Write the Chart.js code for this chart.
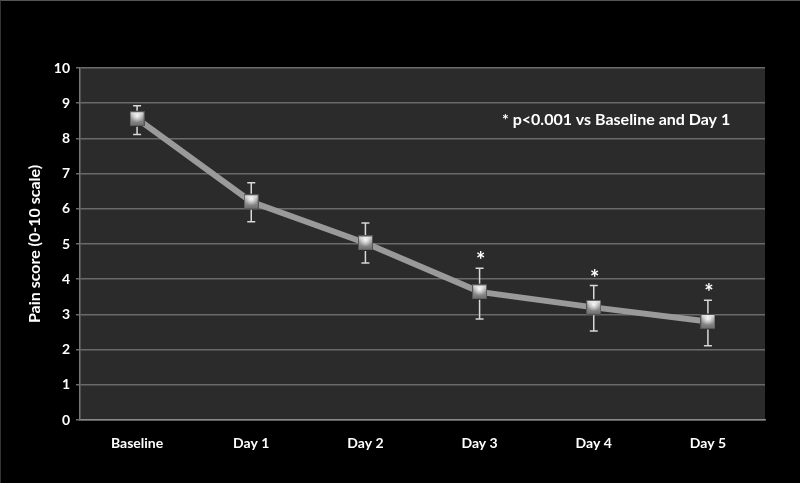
<!DOCTYPE html>
<html>
<head>
<meta charset="utf-8">
<script src="https://cdn.jsdelivr.net/npm/chart.js@4.4.0/dist/chart.umd.min.js"></script>
<style>
  html, body { margin: 0; padding: 0; background: #000; }
  #wrap { width: 800px; height: 483px; position: relative; box-sizing: border-box; border-top: 1px solid #555; border-left: 1px solid #333; }
</style>
</head>
<body>
<div id="wrap"><canvas id="painChart" width="800" height="483"></canvas></div>
<script>
// Data
const categories = ['Baseline', 'Day 1', 'Day 2', 'Day 3', 'Day 4', 'Day 5'];
const painMean = [8.56, 6.2, 5.03, 3.64, 3.2, 2.8];
const errUpper = [8.93, 6.74, 5.6, 4.31, 3.82, 3.4];
const errLower = [8.11, 5.63, 4.46, 2.87, 2.53, 2.11];
const significant = [false, false, false, true, true, true];
const yTicks = [0, 1, 2, 3, 4, 5, 6, 7, 8, 9, 10];
const noteText = '* p<0.001 vs Baseline and Day 1';

const FONT = 'Lato, "Open Sans", sans-serif';

// Square marker with a grey gradient and light top
function makeMarker(size) {
    const c = document.createElement('canvas');
    c.width = size; c.height = size;
    const g = c.getContext('2d');
    const grad = g.createLinearGradient(0, 0, 0, size);
    grad.addColorStop(0, '#e8e8e8');
    grad.addColorStop(0.35, '#a0a0a0');
    grad.addColorStop(1, '#6a6a6a');
    g.fillStyle = grad;
    g.fillRect(0, 0, size, size);
    const hl = g.createRadialGradient(size / 2, size * 0.3, 0, size / 2, size * 0.3, size * 0.45);
    hl.addColorStop(0, 'rgba(255,255,255,0.95)');
    hl.addColorStop(1, 'rgba(255,255,255,0)');
    g.fillStyle = hl;
    g.fillRect(0, 0, size, size);
    g.strokeStyle = '#555';
    g.lineWidth = 1;
    g.strokeRect(0.5, 0.5, size - 1, size - 1);
    return c;
}
const marker = makeMarker(15);

// Plot area background
const plotBg = {
    id: 'plotBg',
    beforeDraw(chart) {
        const { ctx, chartArea: a } = chart;
        ctx.save();
        ctx.fillStyle = '#2b2b2b';
        ctx.fillRect(a.left, a.top, a.right - a.left, a.bottom - a.top);
        ctx.restore();
    }
};

// Error bars, significance stars and the note
const errorBars = {
    id: 'errorBars',
    afterDatasetsDraw(chart) {
        const { ctx } = chart;
        const x = chart.scales.x, y = chart.scales.y;
        ctx.save();
        ctx.strokeStyle = '#d8d8d8';
        ctx.lineWidth = 1.5;
        categories.forEach((c, i) => {
            const px = x.getPixelForValue(i);
            const top = y.getPixelForValue(errUpper[i]);
            const bot = y.getPixelForValue(errLower[i]);
            const mid = y.getPixelForValue(painMean[i]);
            ctx.beginPath();
            ctx.moveTo(px, top); ctx.lineTo(px, mid - 8);
            ctx.moveTo(px, mid + 8); ctx.lineTo(px, bot);
            ctx.moveTo(px - 4, top); ctx.lineTo(px + 4, top);
            ctx.moveTo(px - 4, bot); ctx.lineTo(px + 4, bot);
            ctx.stroke();
            if (significant[i]) {
                ctx.fillStyle = '#ffffff';
                ctx.font = 'bold 22px ' + FONT;
                ctx.textAlign = 'center';
                ctx.textBaseline = 'middle';
                ctx.fillText('*', px + 1, top - 7);
            }
        });
        ctx.fillStyle = '#ffffff';
        ctx.font = 'bold 16px ' + FONT;
        ctx.textAlign = 'left';
        ctx.textBaseline = 'middle';
        ctx.fillText(noteText, 501, 119);
        ctx.restore();
    }
};

const ctx = document.getElementById('painChart').getContext('2d');
const painChart = new Chart(ctx, {
    type: 'line',
    data: {
        labels: categories,
        datasets: [{
            data: painMean,
            borderColor: '#9a9a9a',
            borderWidth: 6,
            pointStyle: marker,
            pointRadius: 8,
            pointHoverRadius: 8,
            tension: 0
        }]
    },
    options: {
        responsive: false,
        animation: false,
        layout: { padding: { left: 0, top: 67, right: 36, bottom: 0 } },
        plugins: { legend: { display: false }, tooltip: { enabled: false } },
        scales: {
            x: {
                offset: true,
                grid: { display: false, drawOnChartArea: false, drawTicks: true, tickLength: 5, color: '#888', offset: true },
                border: { display: true, color: '#888', width: 1.5 },
                ticks: { color: '#ffffff', font: { family: FONT, size: 14, weight: 'bold' }, padding: 10 },
                afterFit(scale) { scale.height = 64; }
            },
            y: {
                min: 0,
                max: 10,
                afterBuildTicks(scale) { scale.ticks = yTicks.map(v => ({ value: v })); },
                grid: { color: '#6a6a6a', lineWidth: 1.5, drawTicks: true, tickLength: 4 },
                border: { display: true, color: '#777', width: 1.5 },
                ticks: { color: '#ffffff', font: { family: FONT, size: 14, weight: 'bold' }, padding: 6 },
                title: {
                    display: true,
                    text: 'Pain score (0-10 scale)',
                    color: '#ffffff',
                    font: { family: FONT, size: 16, weight: 'bold' },
                    padding: { top: 24, bottom: 4 }
                },
                afterFit(scale) { scale.width = 79; }
            }
        }
    },
    plugins: [plotBg, errorBars]
});
</script>
</body>
</html>
